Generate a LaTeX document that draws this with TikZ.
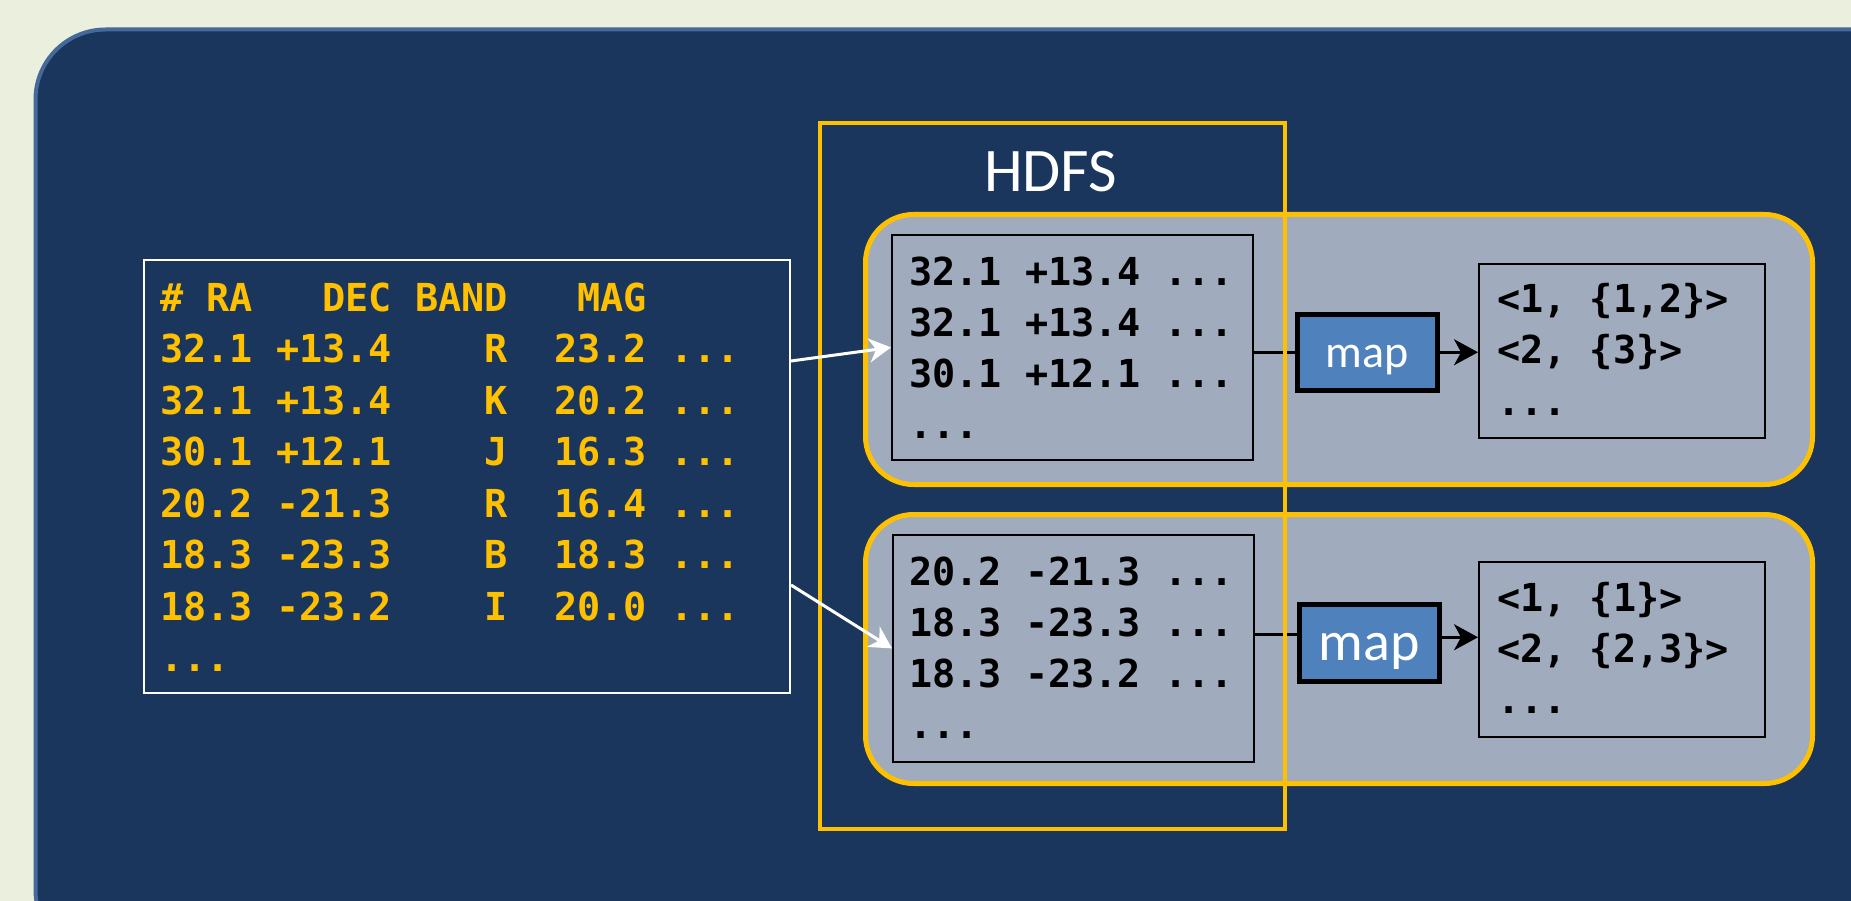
\documentclass[tikz,border=0pt]{standalone}
\usepackage{fontspec}
\usetikzlibrary{arrows.meta,calc}
\newfontfamily\codefont{DejaVu Sans Mono}
\newfontfamily\labelfont{Carlito}
\frenchspacing
\newcommand\trail{...}

\definecolor{bgcream}{HTML}{EAEFDE}
\definecolor{panelblue}{HTML}{1A365D}
\definecolor{panelrim}{HTML}{44699A}
\definecolor{hdfsgold}{HTML}{FFC000}
\definecolor{blockgrey}{HTML}{A0ACBD}
\definecolor{mapblue}{HTML}{4F81BD}

\tikzset{
  catbox/.style={draw=white, line width=2pt, inner sep=0pt, anchor=north west},
  splitblock/.style={draw=hdfsgold, line width=5pt, fill=blockgrey, rounded corners=48pt,
    inner sep=0pt, anchor=north west},
  databox/.style={draw=black, line width=1.8pt, fill=blockgrey, inner sep=0pt, anchor=north west},
  mapbox/.style={draw=black, line width=4.5pt, fill=mapblue, text=white, inner sep=0pt,
    anchor=north west, minimum width=140pt, minimum height=76pt, text depth=0pt},
  rowtext/.style={anchor=base west, inner sep=0pt,
    font=\codefont\bfseries\fontsize{38.5}{40}\selectfont},
  catrow/.style={rowtext, text=hdfsgold},
  datarow/.style={rowtext, text=black},
  link/.style={line width=2.5pt, draw=black},
  linkarrow/.style={link, -{Stealth[length=24pt,width=26pt,inset=7pt]}},
  feed/.style={line width=3pt, draw=white, -{Stealth[length=22pt,width=24pt,inset=7pt]}},
}

\begin{document}
\begin{tikzpicture}[x=1pt, y=-1pt]
\useasboundingbox (0,0) rectangle (1851,901);
\fill[bgcream] (0,0) rectangle (1851,901);

% dark panel, running off the right and bottom edges
\begin{scope}
  \clip (0,0) rectangle (1851,901);
  \draw[panelrim, line width=4pt, fill=panelblue, rounded corners=70pt]
    (35.5,29.5) rectangle (1930,960);
\end{scope}

% input catalogue
\node[catbox, minimum width=646pt, minimum height=433pt] (catalog) at (143,259) {};
\foreach \row [count=\i from 0] in {
    {\#~RA~~~DEC~BAND~~~MAG},
    {32.1~+13.4~~~~R~~23.2~\trail},
    {32.1~+13.4~~~~K~~20.2~\trail},
    {30.1~+12.1~~~~J~~16.3~\trail},
    {20.2~-21.3~~~~R~~16.4~\trail},
    {18.3~-23.3~~~~B~~18.3~\trail},
    {18.3~-23.2~~~~I~~20.0~\trail},
    {\trail}}
  \node[catrow] (cat\i) at (160,{311+51.5*\i}) {\row};

% the two splits, each with its map task
\node[splitblock, minimum width=947pt, minimum height=270pt] (blk1) at (863,212) {};
\node[splitblock, minimum width=947pt, minimum height=269pt] (blk2) at (863,512) {};

\node[databox, minimum width=361pt, minimum height=225pt] (in1) at (891,234) {};
\node[databox, minimum width=361pt, minimum height=227pt] (in2) at (892,534) {};
\node[databox, minimum width=286pt, minimum height=174pt] (out1) at (1478,263) {};
\node[databox, minimum width=286pt, minimum height=175pt] (out2) at (1478,561) {};

\foreach \row [count=\i from 0] in {{32.1~+13.4~\trail}, {32.1~+13.4~\trail}, {30.1~+12.1~\trail}, {\trail}}
  \node[datarow] (ina\i) at (909,{285+51*\i}) {\row};
\foreach \row [count=\i from 0] in {{20.2~-21.3~\trail}, {18.3~-23.3~\trail}, {18.3~-23.2~\trail}, {\trail}}
  \node[datarow] (inb\i) at (909,{585+51*\i}) {\row};
\foreach \row [count=\i from 0] in {{<1,~\{1,2\}>}, {<2,~\{3\}>}, {\trail}}
  \node[datarow] (outa\i) at (1497,{312+51.5*\i}) {\row};
\foreach \row [count=\i from 0] in {{<1,~\{1\}>}, {<2,~\{2,3\}>}, {\trail}}
  \node[datarow] (outb\i) at (1497,{611.5+51*\i}) {\row};

\node[mapbox, font=\labelfont\fontsize{46}{48}\selectfont, text height=30pt] (map1) at (1295,312) {map};
\node[mapbox, font=\labelfont\fontsize{56}{58}\selectfont, text height=36pt, minimum height=77pt] (map2) at (1297,602) {map};

% record flow through the map tasks
\draw[link] (in1.east |- map1.west) -- (map1.west);
\draw[linkarrow] (map1.east) -- (out1.west |- map1.east);
\coordinate (j2) at ($(map2.west)+(0,-8.5)$);
\coordinate (k2) at ($(map2.east)+(0,-5.5)$);
\draw[link] (in2.east |- j2) -- (j2);
\draw[linkarrow] (k2) -- (out2.west |- k2);

% HDFS storage frame
\node[draw=hdfsgold, line width=4pt, inner sep=0pt, anchor=north west,
      minimum width=465pt, minimum height=706pt] (hdfs) at (818,121) {};
\node[anchor=base, inner sep=0pt, text=white, font=\labelfont\fontsize{62}{64}\selectfont]
  (hdfslabel) at (1050.5,192) {HDFS};

% catalogue rows split into blocks
\draw[feed] ($(catalog.north east)+(0,102)$) -- (in1.west);
\draw[feed] ($(catalog.north east)+(0,326)$) -- (in2.west);
\end{tikzpicture}
\end{document}
